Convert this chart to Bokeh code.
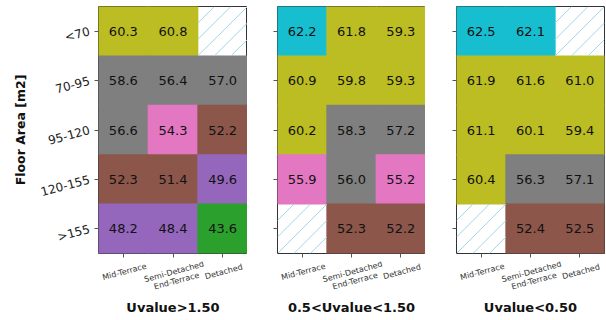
import math

from bokeh.core.properties import value
from bokeh.embed import file_html
from bokeh.layouts import column, row
from bokeh.models import ColumnDataSource, LinearColorMapper, Range1d
from bokeh.palettes import Category10
from bokeh.plotting import figure
from bokeh.resources import INLINE
from bokeh.transform import transform

dwellings = ["Mid-Terrace", "Semi-Detached\nEnd-Terrace", "Detached"]
floor_areas = ["<70", "70-95", "95-120", "120-155", ">155"]

# rows follow floor_areas, columns follow dwellings; None marks a missing group
uvalue_high = [
    [60.3, 60.8, None],
    [58.6, 56.4, 57.0],
    [56.6, 54.3, 52.2],
    [52.3, 51.4, 49.6],
    [48.2, 48.4, 43.6],
]
uvalue_mid = [
    [62.2, 61.8, 59.3],
    [60.9, 59.8, 59.3],
    [60.2, 58.3, 57.2],
    [55.9, 56.0, 55.2],
    [None, 52.3, 52.2],
]
uvalue_low = [
    [62.5, 62.1, None],
    [61.9, 61.6, 61.0],
    [61.1, 60.1, 59.4],
    [60.4, 56.3, 57.1],
    [None, 52.4, 52.5],
]
panel_titles = ["Uvalue>1.50", "0.5<Uvalue<1.50", "Uvalue<0.50"]

FONT = "DejaVu Sans"
# ten colour bands, 3 units wide each
mapper = LinearColorMapper(palette=Category10[10], low=34.95, high=64.95)

HEAT_H = 261
STRIP_H = 320 - HEAT_H
HATCH_STEPS = 3  # diagonal hatch lines per cell width


def hatch_segments(kinds, areas):
    """45 degree '/' hatch lines clipped to each empty cell."""
    x0, y0, x1, y1 = [], [], [], []
    for kind, area in zip(kinds, areas):
        for j in range(-HATCH_STEPS + 1, HATCH_STEPS):
            k = j / HATCH_STEPS
            u0, u1 = max(-0.5, k - 0.5), min(0.5, k + 0.5)
            x0.append((kind, u0))
            x1.append((kind, u1))
            y0.append((area, u0 - k))
            y1.append((area, u1 - k))
    return dict(x0=x0, y0=y0, x1=x1, y1=y1)


def make_panel(grid, title, first, left, right):
    fw = 149 if first else 148
    p = figure(
        x_range=dwellings,
        y_range=list(reversed(floor_areas)),
        frame_width=fw,
        frame_height=247,
        min_border_left=left,
        min_border_right=right,
        min_border_top=6,
        min_border_bottom=HEAT_H - 6 - 247,
        output_backend="svg",
        toolbar_location=None,
        tools="",
        background_fill_color="white",
        border_fill_color="white",
        outline_line_color="#333333",
        outline_line_width=1,
    )
    xs, ys, vals, labels = [], [], [], []
    mx, my = [], []
    for r, area in enumerate(floor_areas):
        for c, kind in enumerate(dwellings):
            v = grid[r][c]
            if v is None:
                mx.append(kind)
                my.append(area)
            else:
                xs.append(kind)
                ys.append(area)
                vals.append(v)
                labels.append(f"{v:.1f}")
    src = ColumnDataSource(dict(x=xs, y=ys, v=vals, label=labels))
    # cells overlap by a hair so no seams show between neighbours
    p.rect(x="x", y="y", width=1.02, height=1.02, source=src,
           fill_color=transform("v", mapper), line_color=None)
    if mx:
        p.segment(source=ColumnDataSource(hatch_segments(mx, my)),
                  x0="x0", y0="y0", x1="x1", y1="y1",
                  line_color="#a3d5e8", line_width=1)
    p.text(x="x", y="y", text="label", source=src, text_align="center",
           text_baseline="middle", text_font=value(FONT), text_font_size="13px",
           text_color="#111111")

    p.xgrid.visible = False
    p.ygrid.visible = False
    for ax in (p.xaxis, p.yaxis):
        ax.axis_line_color = None
        ax.major_tick_in = 0
        ax.major_tick_out = 4
        ax.major_tick_line_color = "#555555"
        ax.minor_tick_line_color = None

    # x tick labels live in the strip below, so the axis only draws ticks
    p.xaxis.major_label_text_color = None
    p.xaxis.major_label_text_font_size = "1px"
    p.xaxis.major_label_standoff = 0

    if first:
        p.yaxis.major_label_text_font = FONT
        p.yaxis.major_label_text_font_size = "12px"
        p.yaxis.major_label_text_color = "#222222"
        p.yaxis.major_label_orientation = math.radians(15)
        p.yaxis.axis_label = "Floor Area [m2]"
        p.yaxis.axis_label_text_font = FONT
        p.yaxis.axis_label_text_font_style = "bold"
        p.yaxis.axis_label_text_font_size = "12.5px"
        p.yaxis.axis_label_text_color = "#111111"
        p.yaxis.axis_label_standoff = 6
    else:
        p.yaxis.major_label_text_color = None
        p.yaxis.major_label_text_font_size = "1px"

    # strip under the heatmap: tilted dwelling names and the panel title
    s = figure(
        x_range=p.x_range,
        y_range=Range1d(-STRIP_H, 0),
        frame_width=fw,
        frame_height=STRIP_H,
        min_border_left=left,
        min_border_right=right,
        min_border_top=0,
        min_border_bottom=0,
        x_axis_location=None,
        y_axis_location=None,
        output_backend="svg",
        toolbar_location=None,
        tools="",
        outline_line_color=None,
        background_fill_color="white",
        border_fill_color="white",
    )
    s.xgrid.visible = False
    s.ygrid.visible = False
    s.text(x=dwellings, y=[-6] * len(dwellings), text=dwellings,
           angle=math.radians(15), text_align="center", text_baseline="top",
           text_font=value(FONT), text_font_size="8px", text_color="#333333",
           text_line_height=1.05)
    s.text(x=[len(dwellings) / 2], y=[-46], text=[title], text_align="center",
           text_baseline="middle", text_font=value(FONT), text_font_size="13px",
           text_font_style="bold", text_color="#111111")
    return column(p, s, spacing=0)


p1 = make_panel(uvalue_high, panel_titles[0], True, 98, 0)
p2 = make_panel(uvalue_mid, panel_titles[1], False, 30, 0)
p3 = make_panel(uvalue_low, panel_titles[2], False, 31, 2)

layout = row(p1, p2, p3, spacing=0)
open("out.html", "w").write(file_html(layout, INLINE))
